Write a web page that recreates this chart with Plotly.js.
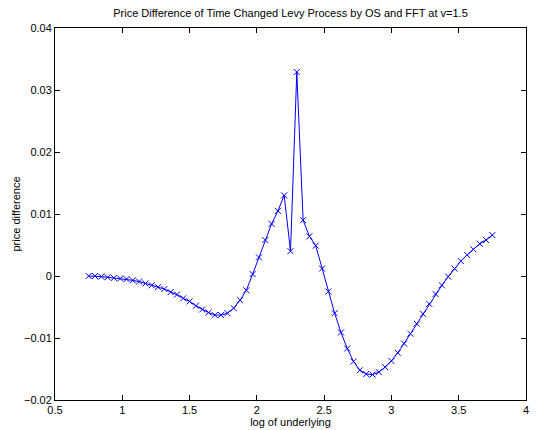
<!DOCTYPE html>
<html>
<head>
<meta charset="utf-8">
<script src="https://cdn.plot.ly/plotly-3.0.1.min.js"></script>
<style>html,body{margin:0;padding:0;background:#fff;}#chart{width:539px;height:430px;}</style>
</head>
<body>
<div id="chart"></div>
<script>
var logUnderlying = [
  0.75, 0.796875, 0.84375, 0.890625, 0.9375, 0.984375, 1.03125, 1.078125,
  1.125, 1.171875, 1.21875, 1.265625, 1.3125, 1.359375, 1.40625, 1.453125,
  1.5, 1.546875, 1.59375, 1.640625, 1.6875, 1.734375, 1.78125, 1.828125,
  1.875, 1.921875, 1.96875, 2.015625, 2.0625, 2.109375, 2.15625, 2.203125,
  2.25, 2.296875, 2.34375, 2.390625, 2.4375, 2.484375, 2.53125, 2.578125,
  2.625, 2.671875, 2.71875, 2.765625, 2.8125, 2.859375, 2.90625, 2.953125,
  3.0, 3.046875, 3.09375, 3.140625, 3.1875, 3.234375, 3.28125, 3.328125,
  3.375, 3.421875, 3.46875, 3.515625, 3.5625, 3.609375, 3.65625, 3.703125,
  3.75
];
var priceDifference = [
  0.0000, 0.0000, -0.0001, -0.0002, -0.0003, -0.0004, -0.0005, -0.0007,
  -0.0009, -0.0012, -0.0015, -0.0018, -0.0021, -0.0026, -0.0030, -0.0036,
  -0.0041, -0.0048, -0.0054, -0.0059, -0.0063, -0.0063, -0.0060, -0.0052,
  -0.0039, -0.0023, 0.0003, 0.0030, 0.0058, 0.0084, 0.0105, 0.0130,
  0.0040, 0.0329, 0.0090, 0.0064, 0.0049, 0.0012, -0.0025, -0.0060,
  -0.0091, -0.0117, -0.0138, -0.0152, -0.0158, -0.0159, -0.0155, -0.0147,
  -0.0137, -0.0124, -0.0109, -0.0093, -0.0077, -0.0061, -0.0045, -0.0029,
  -0.0015, -0.0001, 0.0012, 0.0024, 0.0034, 0.0043, 0.0052, 0.0058,
  0.0066
];
var xTicks = [0.5, 1, 1.5, 2, 2.5, 3, 3.5, 4];
var yTicks = [-0.02, -0.01, 0, 0.01, 0.02, 0.03, 0.04];

var fontFam = 'Liberation Sans, Arial, Helvetica, sans-serif';

var trace = {
  x: logUnderlying,
  y: priceDifference,
  type: 'scatter',
  mode: 'lines+markers',
  line: {color: '#0000ff', width: 1},
  marker: {symbol: 'x-thin', size: 6, color: '#0000ff', line: {color: '#0000ff', width: 1}},
  showlegend: false,
  hoverinfo: 'x+y'
};

var axisCommon = {
  showline: true,
  linecolor: '#000',
  linewidth: 1,
  mirror: 'ticks',
  ticks: 'inside',
  ticklen: 5,
  tickwidth: 1,
  tickcolor: '#000',
  showgrid: false,
  zeroline: false,
  tickfont: {family: fontFam, size: 11, color: '#000'}
};

var layout = {
  width: 539,
  height: 430,
  margin: {l: 55, r: 13, t: 28, b: 30, pad: 0},
  paper_bgcolor: '#fff',
  plot_bgcolor: '#fff',
  font: {family: fontFam, size: 11, color: '#000'},
  title: {
    text: 'Price Difference of Time Changed Levy Process by OS and FFT at v=1.5',
    font: {family: fontFam, size: 11, color: '#000'},
    x: 0.539, xanchor: 'center',
    y: 0.97, yref: 'container', yanchor: 'middle'
  },
  xaxis: Object.assign({}, axisCommon, {
    range: [0.5, 4],
    tickvals: xTicks,
    ticktext: xTicks.map(String),
    title: {text: 'log of underlying', font: {family: fontFam, size: 11, color: '#000'}, standoff: 1}
  }),
  yaxis: Object.assign({}, axisCommon, {
    range: [-0.02, 0.04],
    tickvals: yTicks,
    ticktext: yTicks.map(function (v) { return v < 0 ? '\u2212' + Math.abs(v) : String(v); }),
    title: {text: 'price difference', font: {family: fontFam, size: 11, color: '#000'}, standoff: 1}
  })
};

Plotly.newPlot('chart', [trace], layout, {displayModeBar: false, staticPlot: true});
</script>
</body>
</html>
